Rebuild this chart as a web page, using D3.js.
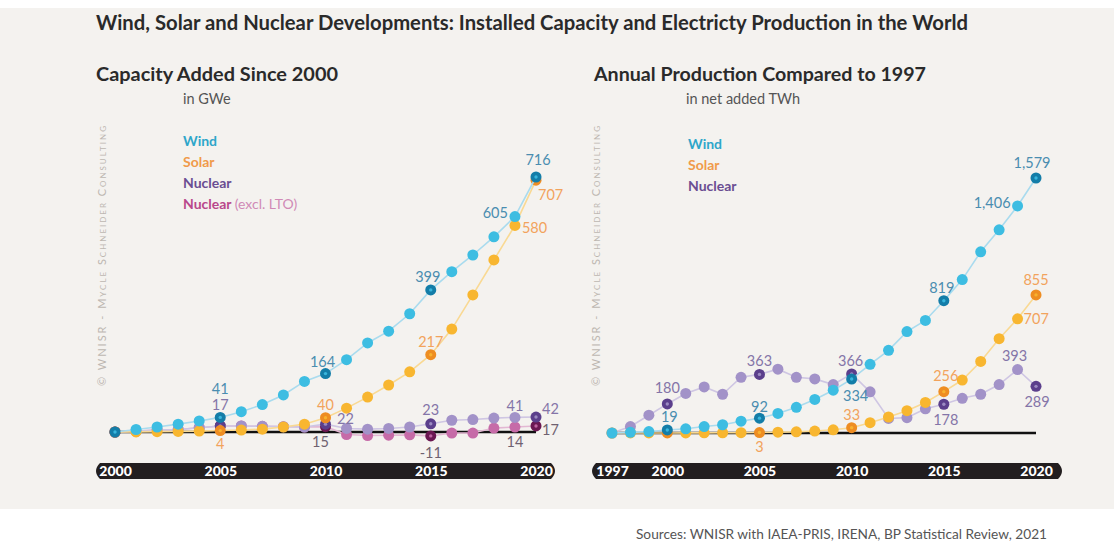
<!DOCTYPE html>
<html><head><meta charset="utf-8">
<script src="https://cdn.jsdelivr.net/npm/d3@7/dist/d3.min.js"></script>
<style>
html,body{margin:0;padding:0;background:#fff;}
svg{display:block;font-family:Lato,"Open Sans",sans-serif;}
</style></head>
<body>
<svg id="c" width="1114" height="542"></svg>
<script>
// ---------- DATA ----------
const capYears = d3.range(2000, 2021);
const windCap        = [0,7,14,22,31,41,57,77,104,142,164,203,250,283,332,399,450,497,548,605,716];
const solarCap       = [0,0.3,1,1.5,2.5,4,5.5,8,14,22,40,67,98,132,169,217,289,385,483,580,707];
const nuclearCap     = [0,2,6,7,12,17,17,16,15,14,22,10,8,10,14,23,33,35,39,41,42];
const nuclearExclCap = [0,2,6,7,12,17,17,16,15,14,15,-7,-10,-9,-8,-11,-3,-3,11,14,17];

const prodYears = d3.range(1997, 2021);
const windProd    = [0,4,9,19,26,40,51,73,92,121,159,208,265,334,425,512,628,697,819,950,1122,1258,1406,1579];
const solarProd   = [0,0.1,0.2,0.4,0.7,1,1.5,2,3,5,7,12,20,33,64,99,138,189,256,328,443,584,707,855];
const nuclearProd = [0,40,110,180,245,285,240,345,363,395,345,335,300,366,255,90,95,150,178,215,240,300,393,289];

const capTicks  = [2000, 2005, 2010, 2015, 2020];
const prodTicks = [1997, 2000, 2005, 2010, 2015, 2020];
const highlightYears = [2000, 2005, 2010, 2015, 2020];

// labels: [year, value text, series]
const capLabels = [
  [2005,"41","wind"],[2010,"164","wind"],[2015,"399","wind"],[2019,"605","wind"],[2020,"716","wind"],
  [2005,"4","solar"],[2010,"40","solar"],[2015,"217","solar"],[2019,"580","solar"],[2020,"707","solar"],
  [2005,"17","nuclear"],[2010,"22","nuclear"],[2015,"23","nuclear"],[2019,"41","nuclear"],[2020,"42","nuclear"],
  [2010,"15","excl"],[2015,"-11","excl"],[2019,"14","excl"],[2020,"17","excl"]
];
const prodLabels = [
  [2000,"19","wind"],[2005,"92","wind"],[2010,"334","wind"],[2015,"819","wind"],[2019,"1,406","wind"],[2020,"1,579","wind"],
  [2005,"3","solar"],[2010,"33","solar"],[2015,"256","solar"],[2019,"707","solar"],[2020,"855","solar"],
  [2000,"180","nuclear"],[2005,"363","nuclear"],[2010,"366","nuclear"],[2015,"178","nuclear"],[2019,"393","nuclear"],[2020,"289","nuclear"]
];

// ---------- STYLE ----------
const C = {
  wind:   {dot:"#3dbde2", line:"#a9dbee", hi:"#137da8", txt:"#4a8db0", leg:"#2ea6ca"},
  solar:  {dot:"#f8b630", line:"#f9d993", hi:"#ee8d22", txt:"#f2a35c", leg:"#f09a4a"},
  nuclear:{dot:"#a292c8", line:"#cfc6e3", hi:"#5b3f8c", txt:"#8475a8", leg:"#6a4d92"},
  excl:   {dot:"#c66ba8", line:"#e3b8d3", hi:"#6b1752", txt:"#6f6170", leg:"#b9478b"}
};
// label offsets [dx, dy, anchor] keyed "series-year"
const capOff = {
  "wind-2005":[0,-28,"middle"],"wind-2010":[-3,-12,"middle"],"wind-2015":[-3,-13,"middle"],"wind-2019":[-7,-4,"end"],"wind-2020":[2,-17,"middle"],
  "solar-2005":[0,13,"middle"],"solar-2010":[0,-13,"middle"],"solar-2015":[0,-13,"middle"],"solar-2019":[7,2,"start"],"solar-2020":[2,15,"start"],
  "nuclear-2005":[0,-21,"middle"],"nuclear-2010":[20,-5,"middle"],"nuclear-2015":[0,-14,"middle"],"nuclear-2019":[0,-11,"middle"],"nuclear-2020":[6,-8,"start"],
  "excl-2010":[-5,15,"middle"],"excl-2015":[0,17,"middle"],"excl-2019":[0,15,"middle"],"excl-2020":[6,4,"start"]
};
const prodOff = {
  "wind-2000":[2,-13,"middle"],"wind-2005":[0,-11,"middle"],"wind-2010":[4,17,"middle"],"wind-2015":[-2,-13,"middle"],"wind-2019":[-7,-3,"end"],"wind-2020":[-4,-15,"middle"],
  "solar-2005":[0,14,"middle"],"solar-2010":[0,-13,"middle"],"solar-2015":[2,-16,"middle"],"solar-2019":[6,0,"start"],"solar-2020":[0,-15,"middle"],
  "nuclear-2000":[0,-16,"middle"],"nuclear-2005":[0,-13,"middle"],"nuclear-2010":[-1,-13,"middle"],"nuclear-2015":[2,16,"middle"],"nuclear-2019":[-3,-14,"middle"],"nuclear-2020":[1,16,"middle"]
};

const svg = d3.select("#c");
// panel
svg.append("rect").attr("x",0).attr("y",8).attr("width",1114).attr("height",501).attr("fill","#f4f2ef");

// title
svg.append("text").attr("x",96).attr("y",30).attr("font-size",20).attr("font-weight",700).attr("fill","#2a2a2a")
  .attr("textLength",872).attr("lengthAdjust","spacingAndGlyphs")
  .text("Wind, Solar and Nuclear Developments: Installed Capacity and Electricty Production in the World");

function panel(opt){
  const g = svg.append("g");
  const x = d3.scaleLinear().domain(opt.xDomain).range(opt.xRange);
  const y = d3.scaleLinear().domain(opt.yDomain).range(opt.yRange);

  g.append("text").attr("x",opt.titleX).attr("y",81).attr("font-size",19.5).attr("font-weight",700).attr("fill","#2a2a2a")
    .attr("textLength",opt.titleW).attr("lengthAdjust","spacingAndGlyphs").text(opt.title);
  g.append("text").attr("x",opt.unitX).attr("y",104).attr("font-size",14.5).attr("fill","#555").text(opt.unit);

  // watermark
  g.append("text").attr("transform",`translate(${opt.wmX},386) rotate(-90)`).attr("font-size",11)
    .attr("fill","#bdb7b1").attr("textLength",260).attr("lengthAdjust","spacing").style("font-variant","small-caps")
    .text("© WNISR - Mycle Schneider Consulting");

  // legend
  opt.legend.forEach((l,i)=>{
    const t = g.append("text").attr("x",opt.legX).attr("y",opt.legY + i*21).attr("font-size",14).attr("font-weight",700).attr("fill",C[l[0]].leg).text(l[1]);
    if(l[2]) t.append("tspan").attr("font-weight",400).attr("fill","#d08ab6").text(l[2]);
  });

  // axis band
  const bx0 = opt.band[0], bx1 = opt.band[1], by = 463, bh = 16;
  g.append("path").attr("fill","#221e1f")
    .attr("d",`M${bx0+6},${by} L${bx1-6},${by} Q${bx1+2},${by+bh/2} ${bx1-6},${by+bh} L${bx0+6},${by+bh} Q${bx0-2},${by+bh/2} ${bx0+6},${by} Z`);
  const ax = d3.axisBottom(x).tickValues(opt.ticks).tickFormat(d3.format("d")).tickSize(0).tickPadding(0);
  const axg = g.append("g").attr("transform",`translate(0,${by+2})`).call(ax);
  axg.select(".domain").remove();
  axg.selectAll("text").attr("fill","#fff").attr("font-size",14).attr("font-weight",900)
    .attr("font-family","Lato,sans-serif").attr("dy","0.78em");

  // zero line
  g.append("line").attr("x1",x(opt.xDomain[0])).attr("x2",x(opt.xDomain[1])).attr("y1",y(0)).attr("y2",y(0))
    .attr("stroke","#111").attr("stroke-width",2.5);

  const line = d3.line().x(d=>x(d[0])).y(d=>y(d[1]));
  opt.series.forEach(s=>{
    const pts = opt.years.map((yr,i)=>[yr, s.values[i]]);
    const col = C[s.key];
    g.append("path").datum(pts).attr("d",line).attr("fill","none").attr("stroke",col.line).attr("stroke-width",1.6);
    const dots = g.selectAll(null).data(pts).enter().append("g");
    dots.append("circle").attr("cx",d=>x(d[0])).attr("cy",d=>y(d[1])).attr("r",5.5)
      .attr("fill",d=>highlightYears.includes(d[0]) ? col.hi : col.dot);
    dots.filter(d=>highlightYears.includes(d[0])).append("circle")
      .attr("cx",d=>x(d[0])).attr("cy",d=>y(d[1])).attr("r",1.7).attr("fill",col.dot).attr("opacity",0.9);
  });

  // labels
  opt.labels.forEach(l=>{
    const s = opt.series.find(q=>q.key===l[2]);
    const i = opt.years.indexOf(l[0]);
    const o = opt.off[l[2]+"-"+l[0]];
    g.append("text").attr("x",x(l[0])+o[0]).attr("y",y(s.values[i])+o[1]).attr("dy","0.35em")
      .attr("text-anchor",o[2]).attr("font-size",14.5).attr("fill",C[l[2]].txt).text(l[1]);
  });
}

panel({
  title:"Capacity Added Since 2000", titleX:96, titleW:242, unit:"in GWe", unitX:183, wmX:106,
  legX:183, legY:146,
  legend:[["wind","Wind"],["solar","Solar"],["nuclear","Nuclear"],["excl","Nuclear ","(excl. LTO)"]],
  xDomain:[2000,2020], xRange:[115,536], yDomain:[0,716], yRange:[432,177],
  band:[94,557], ticks:capTicks, years:capYears,
  series:[{key:"excl",values:nuclearExclCap},{key:"nuclear",values:nuclearCap},{key:"solar",values:solarCap},{key:"wind",values:windCap}],
  labels:capLabels, off:capOff
});
panel({
  title:"Annual Production Compared to 1997", titleX:594, titleW:332, unit:"in net added TWh", unitX:686, wmX:600,
  legX:688, legY:149,
  legend:[["wind","Wind"],["solar","Solar"],["nuclear","Nuclear"]],
  xDomain:[1997,2020], xRange:[612,1036], yDomain:[0,1579], yRange:[433,178],
  band:[590,1064], ticks:prodTicks, years:prodYears,
  series:[{key:"nuclear",values:nuclearProd},{key:"solar",values:solarProd},{key:"wind",values:windProd}],
  labels:prodLabels, off:prodOff
});

svg.append("text").attr("x",636).attr("y",539).attr("font-size",13).attr("fill","#555")
  .attr("textLength",411).attr("lengthAdjust","spacingAndGlyphs")
  .text("Sources: WNISR with IAEA-PRIS, IRENA, BP Statistical Review, 2021");
</script>
</body></html>
